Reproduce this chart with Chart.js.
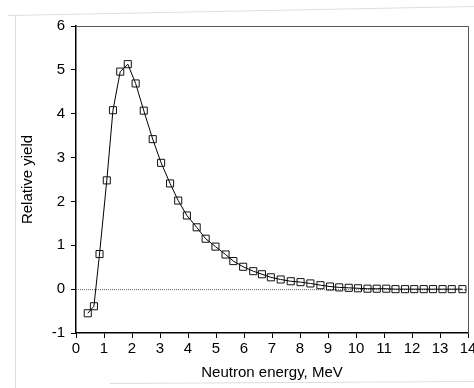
<!DOCTYPE html>
<html>
<head>
<meta charset="utf-8">
<script src="https://cdn.jsdelivr.net/npm/chart.js@4"></script>
<style>
  html, body { margin: 0; padding: 0; background: #fff; }
  #wrap { width: 474px; height: 388px; }
</style>
</head>
<body>
<div id="wrap"><canvas id="myChart" width="474" height="388"></canvas></div>
<script>
// neutron energy (MeV) and relative yield
const energy = [0.42, 0.64, 0.84, 1.1, 1.32, 1.58, 1.85, 2.13, 2.42, 2.74, 3.04, 3.36, 3.65, 3.96,
  4.31, 4.63, 4.98, 5.34, 5.62, 5.97, 6.33, 6.64, 6.96, 7.31, 7.67, 8.02, 8.37, 8.73,
  9.07, 9.4, 9.74, 10.07, 10.41, 10.74, 11.08, 11.41, 11.75, 12.08, 12.42, 12.75, 13.09, 13.42, 13.8];
const relYield = [-0.55, -0.39, 0.8, 2.48, 4.08, 4.96, 5.13, 4.69, 4.07, 3.42, 2.88, 2.41, 2.02, 1.68,
  1.41, 1.15, 0.97, 0.79, 0.64, 0.51, 0.41, 0.34, 0.27, 0.22, 0.18, 0.16, 0.13, 0.09,
  0.06, 0.04, 0.03, 0.02, 0.01, 0.01, 0.01, 0, 0, 0, 0, 0, 0, 0, 0];
const xTicks = [0, 1, 2, 3, 4, 5, 6, 7, 8, 9, 10, 11, 12, 13, 14];
const yTicks = [-1, 0, 1, 2, 3, 4, 5, 6];

const points = energy.map((e, i) => ({ x: e, y: relYield[i] }));

// zero line, box and the faint page edge
const extras = {
  id: 'extras',
  beforeDatasetsDraw(chart) {
    const ctx = chart.ctx;
    const a = chart.chartArea;
    const y0 = chart.scales.y.getPixelForValue(0);
    ctx.save();
    ctx.strokeStyle = '#666';
    ctx.lineWidth = 1;
    ctx.setLineDash([1, 1]);
    ctx.beginPath();
    ctx.moveTo(a.left, y0 + 0.5);
    ctx.lineTo(a.right, y0 + 0.5);
    ctx.stroke();
    ctx.setLineDash([]);
    ctx.strokeStyle = '#555';
    ctx.beginPath();
    ctx.moveTo(a.left, a.top + 0.5);
    ctx.lineTo(a.right + 0.5, a.top + 0.5);
    ctx.lineTo(a.right + 0.5, a.bottom);
    ctx.stroke();
    ctx.strokeStyle = '#ddd';
    ctx.beginPath();
    ctx.moveTo(15.5, 16);
    ctx.lineTo(15.5, 388);
    ctx.moveTo(8, 15.5);
    ctx.lineTo(474, 6.5);
    ctx.moveTo(110, 383.5);
    ctx.lineTo(474, 381.5);
    ctx.stroke();
    ctx.restore();
  }
};

new Chart(document.getElementById('myChart'), {
  type: 'line',
  data: {
    datasets: [{
      data: points,
      borderColor: '#000',
      borderWidth: 1,
      pointStyle: 'rect',
      pointRadius: 5,
      pointBorderWidth: 1,
      pointBorderColor: '#111',
      pointBackgroundColor: 'rgba(0,0,0,0)',
      tension: 0,
      clip: false
    }]
  },
  options: {
    responsive: false,
    animation: false,
    layout: { padding: { top: 26, right: 4, left: 0, bottom: 0 } },
    plugins: { legend: { display: false }, tooltip: { enabled: false } },
    scales: {
      x: {
        type: 'linear',
        min: 0,
        max: 14,
        afterBuildTicks: s => { s.ticks = xTicks.map(v => ({ value: v })); },
        afterFit: s => { s.height = 55; s.paddingRight = 0; s.paddingLeft = 0; },
        grid: { drawOnChartArea: false, drawTicks: true, tickLength: 5, color: '#000' },
        border: { color: '#000', width: 1.5 },
        ticks: { color: '#000', padding: 2, maxRotation: 0, font: { family: 'Liberation Sans', size: 15 } },
        title: { display: true, text: 'Neutron energy, MeV', color: '#000', padding: { top: 2, bottom: 6 },
          font: { family: 'Liberation Sans', size: 15 } }
      },
      y: {
        min: -1,
        max: 6,
        afterBuildTicks: s => { s.ticks = yTicks.map(v => ({ value: v })); },
        afterFit: s => { s.width = 76; },
        grid: { drawOnChartArea: false, drawTicks: true, tickLength: 5, color: '#000' },
        border: { color: '#000', width: 1.5 },
        ticks: { color: '#000', padding: 6, font: { family: 'Liberation Sans', size: 15 } },
        title: { display: true, text: 'Relative yield', color: '#000', padding: { top: 19, bottom: 0 },
          font: { family: 'Liberation Sans', size: 15 } }
      }
    }
  },
  plugins: [extras]
});
</script>
</body>
</html>
